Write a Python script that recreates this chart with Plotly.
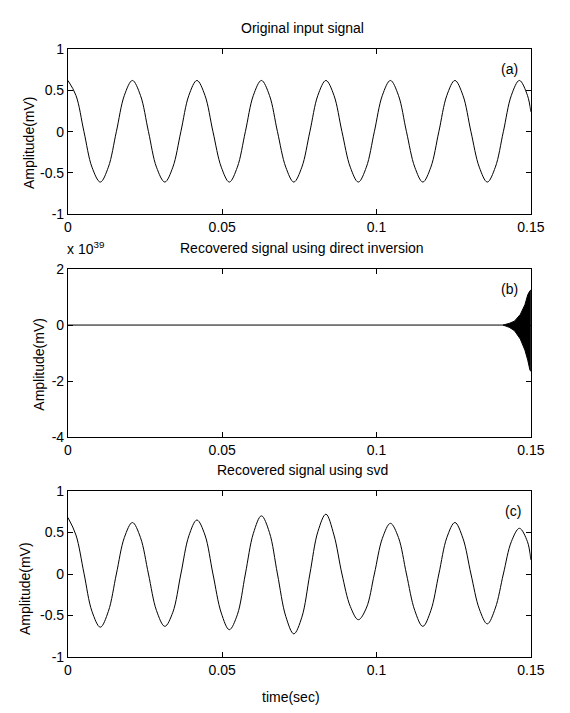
import plotly.graph_objects as go

# ---------------- data ----------------
# sample times (s) shared by the two sinusoidal panels
time_s = [0.0000, 0.0026, 0.0052, 0.0078, 0.0105, 0.0131, 0.0157, 0.0183,
          0.0209, 0.0235, 0.0261, 0.0287, 0.0314, 0.0340, 0.0366, 0.0392,
          0.0418, 0.0444, 0.0470, 0.0497, 0.0523, 0.0549, 0.0575, 0.0601,
          0.0627, 0.0653, 0.0679, 0.0706, 0.0732, 0.0758, 0.0784, 0.0810,
          0.0836, 0.0862, 0.0888, 0.0915, 0.0941, 0.0967, 0.0993, 0.1019,
          0.1045, 0.1071, 0.1097, 0.1124, 0.1150, 0.1176, 0.1202, 0.1228,
          0.1254, 0.1280, 0.1306, 0.1333, 0.1359, 0.1385, 0.1411, 0.1437,
          0.1463, 0.1489, 0.1500]

# (a) original input signal (mV)
original_mv = [0.62, 0.44, 0.00, -0.43, -0.61, -0.43, 0.00, 0.44,
               0.62, 0.44, 0.00, -0.43, -0.61, -0.43, 0.00, 0.44,
               0.62, 0.44, 0.00, -0.43, -0.61, -0.43, 0.00, 0.44,
               0.62, 0.44, 0.00, -0.43, -0.61, -0.43, 0.00, 0.44,
               0.62, 0.44, 0.00, -0.43, -0.61, -0.43, 0.00, 0.44,
               0.62, 0.44, 0.00, -0.43, -0.61, -0.43, 0.00, 0.44,
               0.62, 0.44, 0.00, -0.43, -0.61, -0.43, 0.00, 0.44,
               0.62, 0.44, 0.24]

# (c) signal recovered with SVD (mV)
svd_mv = [0.68, 0.47, 0.01, -0.45, -0.64, -0.45, 0.00, 0.44,
          0.62, 0.44, 0.00, -0.44, -0.63, -0.46, 0.00, 0.46,
          0.65, 0.47, 0.00, -0.47, -0.67, -0.49, 0.00, 0.49,
          0.70, 0.50, 0.00, -0.51, -0.72, -0.52, 0.00, 0.51,
          0.72, 0.47, 0.00, -0.39, -0.55, -0.41, 0.00, 0.43,
          0.61, 0.44, 0.00, -0.44, -0.63, -0.44, 0.00, 0.44,
          0.62, 0.43, 0.00, -0.42, -0.60, -0.41, 0.00, 0.39,
          0.55, 0.39, 0.17]

# (b) direct inversion: flat until the blow-up near the end (units of 1e39 mV)
flat_t = [0.0, 0.1412]
flat_v = [0.0, 0.0]
burst_t = [0.1410, 0.1430, 0.1447, 0.1466, 0.1481, 0.1490, 0.1497, 0.1500]
burst_hi = [0.00, 0.06, 0.14, 0.38, 0.73, 1.08, 1.22, 1.25]
burst_lo = [0.00, -0.08, -0.20, -0.50, -0.90, -1.25, -1.60, -1.65]

x_ticks = [0, 0.05, 0.1, 0.15]
x_ticktext = ["0", "0.05", "0.1", "0.15"]
amp_ticks = [-1, -0.5, 0, 0.5, 1]
amp_ticktext = ["-1", "-0.5", "0", "0.5", "1"]
inv_ticks = [-4, -2, 0, 2]
inv_ticktext = ["-4", "-2", "0", "2"]

titles = ["Original input signal",
          "Recovered signal using direct inversion",
          "Recovered signal using svd"]
panel_tags = ["(a)", "(b)", "(c)"]

# ---------------- layout geometry ----------------
W, H = 570, 713
FONT = "Liberation Sans, Arial, Helvetica, sans-serif"
FS = 14
x_dom = [66 / W, 544 / W]
y_doms = [(42, 211), (267, 439), (494, 664)]  # top, bottom in px


def dom(top, bottom):
    return [1 - bottom / H, 1 - top / H]


fig = go.Figure()
line_style = dict(color="black", width=1)

fig.add_trace(go.Scatter(x=time_s, y=original_mv, mode="lines",
                         line=dict(color="black", width=1, shape="spline"),
                         xaxis="x", yaxis="y", showlegend=False))

fig.add_trace(go.Scatter(x=flat_t, y=flat_v, mode="lines", line=line_style,
                         xaxis="x2", yaxis="y2", showlegend=False))
fig.add_trace(go.Scatter(x=burst_t + burst_t[::-1],
                         y=burst_hi + burst_lo[::-1],
                         mode="lines", fill="toself", fillcolor="black",
                         line=dict(color="black", width=1),
                         xaxis="x2", yaxis="y2", showlegend=False))

fig.add_trace(go.Scatter(x=time_s, y=svd_mv, mode="lines",
                         line=dict(color="black", width=1, shape="spline"),
                         xaxis="x3", yaxis="y3", showlegend=False))

tick_font = dict(family=FONT, size=FS, color="black")


def xaxis_cfg(anchor):
    return dict(domain=x_dom, anchor=anchor, range=[0, 0.15],
                tickvals=x_ticks, ticktext=x_ticktext,
                ticks="inside", ticklen=5, tickcolor="black",
                showline=True, linecolor="black", linewidth=1,
                mirror="allticks", showgrid=False, zeroline=False,
                tickfont=tick_font)


def yaxis_cfg(anchor, top, bottom, rng, tv, tt):
    return dict(domain=dom(top, bottom), anchor=anchor, range=rng,
                tickvals=tv, ticktext=tt,
                ticks="inside", ticklen=5, tickcolor="black",
                showline=True, linecolor="black", linewidth=1,
                mirror="allticks", showgrid=False, zeroline=False,
                tickfont=tick_font)


layout = dict(
    width=W, height=H,
    margin=dict(l=0, r=0, t=0, b=0),
    paper_bgcolor="white", plot_bgcolor="white",
    font=dict(family=FONT, size=FS, color="black"),
    xaxis=xaxis_cfg("y"),
    yaxis=yaxis_cfg("x", *y_doms[0], [-1, 1], amp_ticks, amp_ticktext),
    xaxis2=xaxis_cfg("y2"),
    yaxis2=yaxis_cfg("x2", *y_doms[1], [-4, 2], inv_ticks, inv_ticktext),
    xaxis3=xaxis_cfg("y3"),
    yaxis3=yaxis_cfg("x3", *y_doms[2], [-1, 1], amp_ticks, amp_ticktext),
)
fig.update_layout(**layout)

text_font = dict(family=FONT, size=FS, color="black")
annotations = []
title_y = [20, 245, 473]
tag_pos = [(522, 62), (522, 287), (526, 515)]
ylabel_pos = [(26, 138), (36, 364), (21, 594)]
for i in range(3):
    annotations.append(dict(text=titles[i], x=308 / W, y=1 - title_y[i] / H,
                            xref="paper", yref="paper", showarrow=False,
                            xanchor="center", yanchor="middle",
                            font=text_font))
    annotations.append(dict(text=panel_tags[i], x=tag_pos[i][0] / W,
                            y=1 - tag_pos[i][1] / H,
                            xref="paper", yref="paper", showarrow=False,
                            xanchor="center", yanchor="middle",
                            font=text_font))
    annotations.append(dict(text="Amplitude(mV)", x=ylabel_pos[i][0] / W,
                            y=1 - ylabel_pos[i][1] / H, textangle=-90,
                            xref="paper", yref="paper", showarrow=False,
                            xanchor="center", yanchor="middle",
                            font=text_font))

annotations.append(dict(text="x 10<sup>39</sup>", x=63 / W, y=1 - 246 / H,
                        xref="paper", yref="paper", showarrow=False,
                        xanchor="left", yanchor="middle",
                        font=text_font))
annotations.append(dict(text="time(sec)", x=296 / W, y=1 - 705 / H,
                        xref="paper", yref="paper", showarrow=False,
                        xanchor="center", yanchor="middle",
                        font=text_font))
fig.update_layout(annotations=annotations)

fig.write_html("out.html")
